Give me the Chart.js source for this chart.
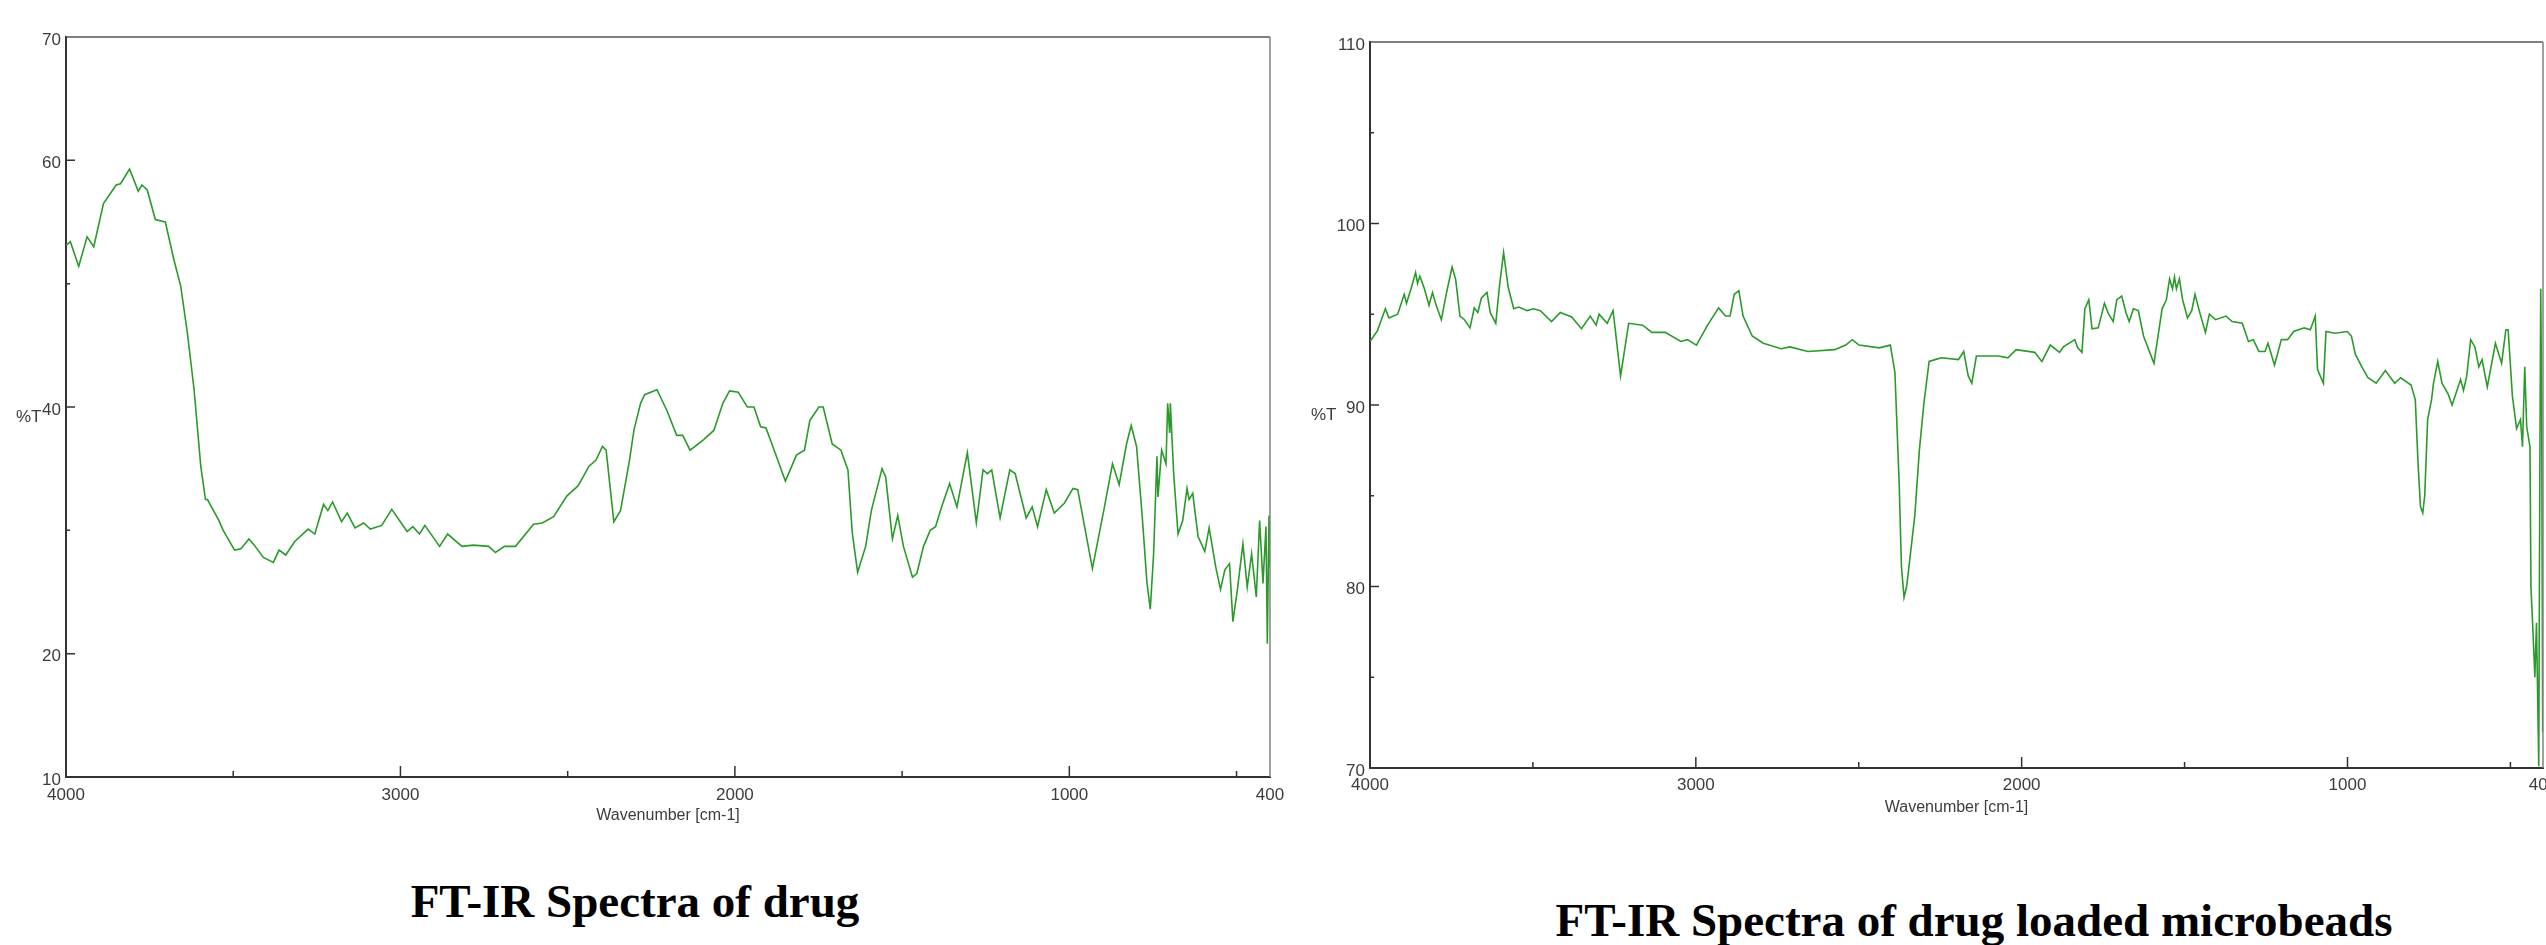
<!DOCTYPE html>
<html>
<head>
<meta charset="utf-8">
<title>FT-IR Spectra</title>
<script src="https://cdn.jsdelivr.net/npm/chart.js@4.4.0/dist/chart.umd.min.js"></script>
<style>
  html, body { margin: 0; padding: 0; background: #fff; }
  body { width: 2546px; height: 945px; position: relative; overflow: hidden; }
  canvas { position: absolute; top: 0; }
  #chart-drug { left: 0; }
  #chart-beads { left: 1300px; }
  .axis-name { position: absolute; font: 17px "Liberation Sans", Arial, sans-serif; color: #3c3c3c; line-height: 1; }
  .caption { position: absolute; font: bold 47px "Liberation Serif", "Times New Roman", serif; color: #000; line-height: 1; white-space: nowrap; transform: translateX(-50%); }
</style>
</head>
<body>
<canvas id="chart-drug" width="1300" height="845"></canvas>
<canvas id="chart-beads" width="1246" height="845"></canvas>
<div class="axis-name" style="left:16px; top:408px;">%T</div>
<div class="axis-name" style="left:1311px; top:406px;">%T</div>
<div class="caption" style="left:635px; top:878px;">FT-IR Spectra of drug</div>
<div class="caption" style="left:1974px; top:897px;">FT-IR Spectra of drug loaded microbeads</div>
<script>
// ---- drug spectrum (wavenumber cm-1 / %T) ----
const drug_wavenumber = [
  4000, 3987, 3962, 3937, 3917, 3888, 3850, 3837, 3810, 3784, 3773, 3757, 3733, 3703, 3677, 3657,
  3637, 3617, 3597, 3583, 3577, 3543, 3530, 3496, 3477, 3453, 3437, 3410, 3380, 3363, 3343, 3316,
  3276, 3256, 3230, 3217, 3203, 3176, 3159, 3136, 3110, 3090, 3056, 3026, 2980, 2963, 2943, 2927,
  2883, 2859, 2816, 2782, 2736, 2716, 2689, 2656, 2602, 2576, 2542, 2502, 2469, 2436, 2415, 2396,
  2385, 2362, 2342, 2315, 2302, 2282, 2270, 2233, 2203, 2174, 2156, 2134, 2096, 2063, 2036, 2016,
  1990, 1963, 1943, 1923, 1907, 1876, 1849, 1816, 1792, 1776, 1749, 1736, 1709, 1683, 1662, 1649,
  1633, 1609, 1592, 1560, 1549, 1529, 1513, 1496, 1469, 1456, 1436, 1416, 1400, 1382, 1358, 1336,
  1305, 1278, 1258, 1245, 1232, 1207, 1178, 1162, 1129, 1111, 1095, 1069, 1045, 1015, 989, 975,
  931, 895, 871, 851, 829, 815, 799, 782, 768, 758, 748, 738, 735, 724, 711, 706,
  700, 698, 688, 675, 661, 648, 642, 631, 615, 595, 582, 562, 548, 535, 521, 511,
  497, 481, 468, 455, 441, 431, 421, 412, 408, 403, 400
];
const drug_transmittance = [
  53.1, 53.4, 51.4, 53.8, 53.0, 56.5, 58.0, 58.1, 59.3, 57.5, 58.0, 57.6, 55.2, 55.0, 51.9, 49.8,
  46.0, 41.4, 35.2, 32.5, 32.5, 30.8, 30.0, 28.4, 28.5, 29.3, 28.8, 27.8, 27.4, 28.4, 28.0, 29.1,
  30.1, 29.7, 32.1, 31.6, 32.3, 30.7, 31.4, 30.2, 30.6, 30.1, 30.4, 31.7, 29.9, 30.3, 29.7, 30.4,
  28.7, 29.7, 28.7, 28.8, 28.7, 28.2, 28.7, 28.7, 30.5, 30.6, 31.1, 32.8, 33.6, 35.2, 35.7, 36.8,
  36.5, 30.7, 31.6, 35.7, 38.1, 40.3, 41.0, 41.4, 39.7, 37.7, 37.7, 36.5, 37.3, 38.1, 40.3, 41.3,
  41.2, 40.0, 40.0, 38.4, 38.3, 36.0, 34.0, 36.1, 36.5, 38.9, 40.0, 40.0, 37.0, 36.5, 34.9, 29.8,
  26.6, 28.7, 31.6, 35.0, 34.3, 29.3, 31.2, 28.7, 26.2, 26.5, 28.7, 30.0, 30.3, 31.9, 33.8, 31.9,
  36.3, 30.6, 34.9, 34.6, 34.9, 31.0, 34.9, 34.6, 31.0, 31.9, 30.3, 33.3, 31.4, 32.2, 33.4, 33.3,
  26.9, 31.9, 35.4, 33.7, 37.0, 38.5, 36.8, 31.1, 25.8, 23.6, 28.1, 36.0, 32.7, 36.5, 35.4, 40.3,
  37.9, 40.3, 34.6, 29.7, 30.8, 33.4, 32.5, 33.0, 29.5, 28.3, 30.2, 27.0, 25.2, 26.8, 27.3, 22.6,
  25.3, 28.9, 25.4, 28.1, 24.6, 30.8, 25.7, 30.3, 20.8, 31.2, 27.0
];

// ---- drug loaded microbeads spectrum ----
const beads_wavenumber = [
  4000, 3977, 3953, 3942, 3915, 3895, 3888, 3874, 3860, 3854, 3847, 3833, 3819, 3808, 3799, 3781,
  3765, 3748, 3737, 3724, 3710, 3693, 3680, 3669, 3658, 3641, 3631, 3614, 3603, 3590, 3576, 3559,
  3543, 3518, 3498, 3477, 3443, 3416, 3381, 3351, 3324, 3306, 3297, 3272, 3254, 3231, 3206, 3163,
  3135, 3094, 3046, 3026, 2998, 2964, 2930, 2909, 2895, 2882, 2868, 2855, 2827, 2793, 2738, 2711,
  2656, 2574, 2540, 2520, 2499, 2437, 2403, 2389, 2376, 2369, 2361, 2353, 2342, 2328, 2314, 2300,
  2284, 2266, 2246, 2194, 2178, 2164, 2153, 2139, 2071, 2042, 2017, 1960, 1938, 1912, 1884, 1872,
  1837, 1828, 1815, 1806, 1794, 1784, 1765, 1746, 1733, 1719, 1708, 1693, 1680, 1670, 1657, 1642,
  1626, 1594, 1569, 1556, 1546, 1537, 1531, 1525, 1516, 1506, 1491, 1478, 1468, 1455, 1436, 1424,
  1405, 1373, 1354, 1323, 1304, 1289, 1272, 1253, 1244, 1224, 1203, 1184, 1165, 1133, 1114, 1099,
  1092, 1074, 1066, 1039, 1001, 988, 976, 956, 937, 912, 884, 855, 837, 805, 792, 783,
  776, 769, 763, 754, 742, 736, 723, 710, 691, 679, 653, 644, 634, 622, 609, 597,
  587, 571, 546, 527, 514, 507, 494, 481, 469, 463, 456, 450, 440, 437, 431, 425,
  420, 413, 410, 407, 404, 401, 400
];
const beads_transmittance = [
  93.5, 94.1, 95.3, 94.8, 95.0, 96.1, 95.6, 96.4, 97.3, 96.7, 97.1, 96.4, 95.5, 96.2, 95.6, 94.7,
  96.2, 97.6, 96.9, 94.9, 94.7, 94.25, 95.35, 95.1, 95.9, 96.2, 95.1, 94.5, 96.5, 98.4, 96.5, 95.3,
  95.4, 95.2, 95.3, 95.2, 94.6, 95.1, 94.85, 94.2, 94.9, 94.4, 95.0, 94.5, 95.2, 91.6, 94.5, 94.4,
  94.0, 94.0, 93.5, 93.6, 93.3, 94.4, 95.35, 94.9, 94.9, 96.1, 96.3, 94.9, 93.8, 93.4, 93.1, 93.2,
  92.95, 93.05, 93.3, 93.6, 93.3, 93.15, 93.3, 91.8, 85.7, 81.1, 79.4, 80.0, 81.7, 83.9, 87.5, 90.1,
  92.4, 92.5, 92.6, 92.5, 92.95, 91.6, 91.2, 92.7, 92.7, 92.6, 93.05, 92.9, 92.4, 93.3, 92.9, 93.2,
  93.6, 93.15, 92.9, 95.3, 95.8, 94.2, 94.25, 95.6, 95.0, 94.6, 95.8, 96.0, 95.1, 94.6, 95.3, 95.2,
  93.8, 92.3, 95.3, 95.8, 96.95, 96.4, 97.05, 96.4, 96.95, 95.8, 94.8, 95.2, 96.1, 95.2, 94.0, 95.0,
  94.7, 94.9, 94.6, 94.5, 93.5, 93.6, 92.95, 92.95, 93.4, 92.2, 93.6, 93.6, 94.05, 94.25, 94.15, 94.9,
  91.95, 91.2, 94.05, 93.95, 94.05, 93.8, 92.8, 92.1, 91.5, 91.2, 91.9, 91.2, 91.5, 91.1, 90.3, 86.6,
  84.4, 84.05, 85.0, 89.2, 90.3, 91.2, 92.4, 91.2, 90.6, 90.0, 91.4, 90.8, 91.6, 93.6, 93.2, 92.1,
  92.5, 91.0, 93.4, 92.3, 94.15, 94.15, 90.5, 88.7, 89.2, 87.7, 92.1, 88.8, 87.7, 80.0, 77.6, 75.0,
  78.0, 70.1, 85.0, 96.4, 90.0, 72.0, 80.0
];

// ---- axis ticks ----
const wavenumber_ticks = [400, 500, 1000, 1500, 2000, 2500, 3000, 3500, 4000];
const wavenumber_labels = [4000, 3000, 2000, 1000, 400];
const drug_y_ticks = [10, 20, 30, 40, 50, 60, 70];
const drug_y_labels = [10, 20, 40, 60, 70];
const beads_y_ticks = [70, 75, 80, 85, 90, 95, 100, 105, 110];
const beads_y_labels = [70, 80, 90, 100, 110];

Chart.defaults.font.family = "'Liberation Sans', Arial, sans-serif";
Chart.defaults.color = "#3c3c3c";

// frame on top/right + inward tick marks, placed by the chart's own scales
const frameTicks = {
  id: "frameTicks",
  afterDatasetsDraw(chart, args, opts) {
    const { ctx, chartArea: a, scales: { x, y } } = chart;
    ctx.save();
    ctx.lineWidth = 1.5;
    ctx.strokeStyle = "#555";
    ctx.beginPath();
    ctx.moveTo(a.left, a.top);
    ctx.lineTo(a.right, a.top);
    ctx.stroke();
    ctx.strokeStyle = "#808080";
    ctx.beginPath();
    ctx.moveTo(a.right, a.top);
    ctx.lineTo(a.right, a.bottom);
    ctx.stroke();
    ctx.strokeStyle = "#333";
    ctx.beginPath();
    x.ticks.forEach(t => {
      if (t.value === x.min || t.value === x.max) return;
      const px = x.getPixelForValue(t.value);
      const len = t.value % 1000 === 0 ? 11 : 6;
      ctx.moveTo(px, a.bottom);
      ctx.lineTo(px, a.bottom - len);
    });
    y.ticks.forEach(t => {
      if (t.value === y.min || t.value === y.max) return;
      const py = y.getPixelForValue(t.value);
      const len = opts.yLabels.includes(t.value) ? 9 : 4;
      ctx.moveTo(a.left, py);
      ctx.lineTo(a.left + len, py);
    });
    ctx.stroke();
    ctx.restore();
  },
};

function drawSpectrum(id, wavenumbers, transmittance, yTicks, yLabels, box) {
  const points = wavenumbers.map((w, i) => ({ x: w, y: transmittance[i] }));
  return new Chart(document.getElementById(id), {
    type: "line",
    data: {
      datasets: [{
        data: points,
        borderColor: "#2a9a2a",
        borderWidth: 1.6,
        pointRadius: 0,
        tension: 0,
      }],
    },
    options: {
      responsive: false,
      animation: false,
      devicePixelRatio: 1,
      events: [],
      layout: { padding: { left: 0, top: box.top, right: box.right, bottom: 0 } },
      plugins: { legend: { display: false }, tooltip: { enabled: false }, frameTicks: { yLabels } },
      scales: {
        x: {
          type: "linear",
          reverse: true,
          min: 400,
          max: 4000,
          afterBuildTicks: s => { s.ticks = wavenumber_ticks.map(v => ({ value: v })); },
          afterFit: s => { s.height = box.xHeight; },
          grid: { display: false, drawTicks: false },
          border: { color: "#333", width: 2 },
          ticks: {
            autoSkip: false,
            maxRotation: 0,
            padding: box.xPad,
            font: { size: 17 },
            callback: v => (wavenumber_labels.includes(v) ? String(v) : ""),
          },
          title: {
            display: true,
            text: "Wavenumber [cm-1]",
            font: { size: 16 },
            padding: { top: 0, bottom: box.titlePad },
          },
        },
        y: {
          type: "linear",
          min: yTicks[0],
          max: yTicks[yTicks.length - 1],
          afterBuildTicks: s => { s.ticks = yTicks.map(v => ({ value: v })); },
          afterFit: s => { s.width = box.yWidth; },
          grid: { display: false, drawTicks: false },
          border: { color: "#333", width: 2 },
          ticks: {
            autoSkip: false,
            padding: 5,
            labelOffset: 3,
            font: { size: 17 },
            callback: v => (yLabels.includes(v) ? String(v) : ""),
          },
        },
      },
    },
    plugins: [frameTicks],
  });
}

drawSpectrum("chart-drug", drug_wavenumber, drug_transmittance, drug_y_ticks, drug_y_labels,
  { top: 37, right: 30, xHeight: 68, yWidth: 66, xPad: 8, titlePad: 20 });
drawSpectrum("chart-beads", beads_wavenumber, beads_transmittance, beads_y_ticks, beads_y_labels,
  { top: 42, right: 3, xHeight: 77, yWidth: 70, xPad: 7, titlePad: 28 });
</script>
</body>
</html>
